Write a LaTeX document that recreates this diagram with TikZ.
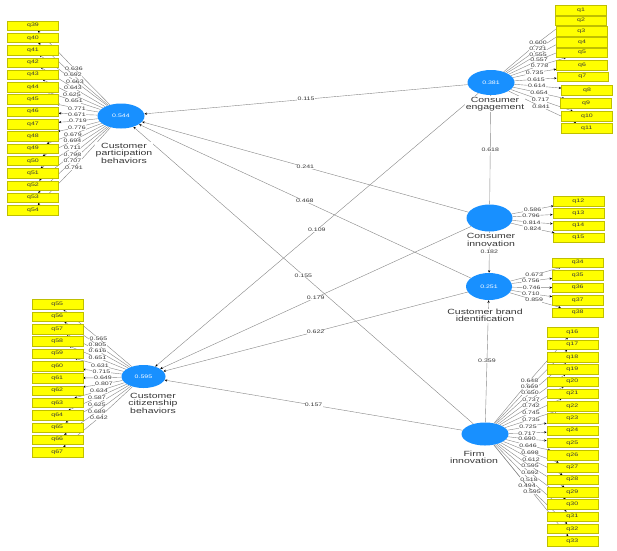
\documentclass[tikz,border=0pt]{standalone}
\usepackage{fontspec}
\setmainfont{Liberation Sans}
\newfontfamily\wf[FakeStretch=1.4]{Liberation Sans}
\usetikzlibrary{shapes.geometric,arrows.meta}
\pgfdeclarelayer{back}
\pgfdeclarelayer{lines}
\pgfsetlayers{back,lines,main}
\definecolor{lvblue}{RGB}{24,144,255}
\definecolor{indy}{RGB}{255,255,0}
\definecolor{lnc}{RGB}{135,135,135}
\definecolor{txt}{RGB}{55,55,55}
\tikzset{
  lv/.style={ellipse, fill=lvblue, minimum width=47pt, minimum height=25pt, inner sep=0pt, text=white, font=\wf\fontsize{5}{6}\selectfont},
  mv/.style={rectangle, fill=indy, draw=indy!75!black, line width=0.2pt, minimum width=51pt, minimum height=9.5pt, inner sep=0pt, text=txt, font=\wf\fontsize{5}{6}\selectfont},
  ld/.style={fill=white, inner sep=0.3pt, text=txt, font=\wf\fontsize{5}{6}\selectfont},
  lvname/.style={fill=white, inner sep=0.5pt, align=center, text=txt, font=\wf\fontsize{7.5}{7.5}\selectfont},
  arr/.style={draw=lnc, line width=0.4pt, -{Stealth[length=2.6pt,width=2.2pt,black]}},
}
\begin{document}
\begin{tikzpicture}[x=1pt,y=-1pt]
\begin{pgfonlayer}{back}
\fill[white] (0,0) rectangle (617,550);
\end{pgfonlayer}
\useasboundingbox (0,0) rectangle (617,550);

% latent variables
\node[lv] (cpb) at (121,116) {0.544};
\node[lv] (ce) at (491,82.5) {0.381};
\node[lv, minimum width=46pt, minimum height=27pt] (ci) at (489.5,218) {};
\node[lv, minimum width=46pt, minimum height=27pt] (cbi) at (489,286.5) {0.251};
\node[lv, minimum height=23pt] (fi) at (485,434) {};
\node[lv, minimum width=44pt, minimum height=23pt] (ccb) at (143.5,376.5) {0.595};

% structural paths
\begin{pgfonlayer}{lines}
\draw[arr] (ce) -- node[ld]{0.115} (cpb);
\draw[arr] (ci) -- node[ld]{0.241} (cpb);
\draw[arr] (cbi) -- node[ld]{0.468} (cpb);
\draw[arr] (fi) -- node[ld]{0.155} (cpb);
\draw[arr] (ce) -- node[ld]{0.109} (ccb);
\draw[arr] (ci) -- node[ld]{0.179} (ccb);
\draw[arr] (cbi) -- node[ld]{0.622} (ccb);
\draw[arr] (fi) -- node[ld]{0.157} (ccb);
\draw[arr] (ci) -- node[ld]{0.618} (ce);
\draw[arr] (ci) -- node[ld]{0.182} (cbi);
\draw[arr] (fi) -- node[ld]{0.359} (cbi);
\end{pgfonlayer}

% latent names
\node[lvname] (cpbt) at (124,153) {Customer\\participation\\behaviors};
\node[lvname] (cet) at (495,104) {Consumer\\engagement};
\node[lvname] (cit) at (491,240) {Consumer\\innovation};
\node[lvname] (cbit) at (485,315.5) {Customer brand\\identification};
\node[lvname] (fit) at (474,457.5) {Firm\\innovation};
\node[lvname] (ccbt) at (153,403.3) {Customer\\citizenship\\behaviors};

% CPB indicators
\foreach \q/\y/\v/\lx/\ly in {39/25.5/0.636/74/68.3, 40/37.8/0.692/73/75, 41/50.1/0.663/75/81.3, 42/62.4/0.643/73/87.7, 43/74.7/0.625/72/94.3, 44/87/0.651/74/101, 45/99.3/0.771/77/108.3, 46/111.6/0.671/77/114.3, 47/123.9/0.719/78/121, 48/136.2/0.776/77/127.5, 49/148.5/0.679/73/134.3, 50/160.8/0.694/72.5/141, 51/173.1/0.711/72.5/147.7, 52/185.4/0.798/72.5/154.3, 53/197.7/0.707/72.5/161, 54/210/0.791/74/167.7}{
  \node[mv] (q\q) at (33,\y) {q\q};
  \node[ld] (l\q) at (\lx,\ly) {\v};
  \begin{pgfonlayer}{lines}\draw[arr] (cpb) -- (l\q) -- (q\q);\end{pgfonlayer}
}

% CE indicators
\foreach \q/\x/\y/\v/\lx/\ly in {1/581/10/0.600/538/42.7, 2/581/20.7/0.721/538/49, 3/581.3/31.3/0.555/538/54.3, 4/582/42.3/0.557/539/60, 5/582/52.7/0.778/539.5/65.7, 6/582/65/0.735/534.7/72.7, 7/582.3/76.7/0.615/536/79.3, 8/587/90.3/0.614/536.8/86, 9/586/103.3/0.654/539/92.7, 10/587/116/0.717/540.5/100, 11/586.7/128/0.841/541/106.7}{
  \node[mv] (q\q) at (\x,\y) {q\q};
  \node[ld] (l\q) at (\lx,\ly) {\v};
  \begin{pgfonlayer}{lines}\draw[arr] (ce) -- (l\q) -- (q\q);\end{pgfonlayer}
}

% CI indicators
\foreach \q/\y/\v/\lx/\ly in {12/201/0.586/532.5/210, 13/213.2/0.796/531/215.7, 14/225.4/0.814/531.7/222.3, 15/237.6/0.824/532.5/228.3}{
  \node[mv] (q\q) at (578.3,\y) {q\q};
  \node[ld] (l\q) at (\lx,\ly) {\v};
  \begin{pgfonlayer}{lines}\draw[arr] (ci) -- (l\q) -- (q\q);\end{pgfonlayer}
}

% CBI indicators
\foreach \q/\y/\v/\lx/\ly in {34/262.5/0.673/534.2/275, 35/275.2/0.756/530.8/281, 36/287.5/0.746/531.7/287.7, 37/300.2/0.710/530.8/293.7, 38/312.5/0.859/534.2/300}{
  \node[mv] (q\q) at (577.7,\y) {q\q};
  \node[ld] (l\q) at (\lx,\ly) {\v};
  \begin{pgfonlayer}{lines}\draw[arr] (cbi) -- (l\q) -- (q\q);\end{pgfonlayer}
}

% FI indicators
\foreach \q/\y/\v/\lx/\ly in {16/332.3/0.648/529.5/380.7, 17/344.6/0.669/529.5/387, 18/356.9/0.650/530/393, 19/369.1/0.737/531/399.3, 20/381.4/0.742/531/405.7, 21/393.7/0.745/531/412.7, 22/406/0.735/531/419.3, 23/418.3/0.725/528/426.7, 24/430.6/0.717/527/433.3, 25/442.8/0.690/527/439, 26/455.1/0.646/528/445.3, 27/467.4/0.698/530/452.3, 28/479.7/0.612/531/459.3, 29/492/0.595/530/466, 30/504.2/0.692/530/472.7, 31/516.5/0.518/529/479.3, 32/528.8/0.494/527/485.7, 33/541.1/0.595/532/491.7}{
  \node[mv] (q\q) at (572.3,\y) {q\q};
  \node[ld] (l\q) at (\lx,\ly) {\v};
  \begin{pgfonlayer}{lines}\draw[arr] (fi) -- (l\q) -- (q\q);\end{pgfonlayer}
}

% CCB indicators
\foreach \q/\y/\v/\lx/\ly in {55/304.3/0.565/98.5/338.3, 56/316.7/0.805/97.5/345, 57/329/0.616/97.5/351, 58/341.3/0.651/97.5/357.7, 59/353.6/0.631/100/365.3, 60/365.9/0.715/101.5/371.7, 61/378.2/0.649/103/377.7, 62/390.5/0.807/104/384, 63/402.8/0.634/99/391, 64/415.1/0.587/97/397.7, 65/427.4/0.625/97/404.3, 66/439.7/0.689/97/411.7, 67/452/0.642/99/417.7}{
  \node[mv] (q\q) at (57.3,\y) {q\q};
  \node[ld] (l\q) at (\lx,\ly) {\v};
  \begin{pgfonlayer}{lines}\draw[arr] (ccb) -- (l\q) -- (q\q);\end{pgfonlayer}
}
\end{tikzpicture}
\end{document}
